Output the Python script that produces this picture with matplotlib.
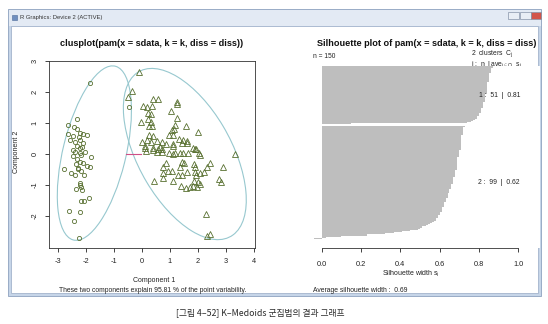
import numpy as np
import matplotlib
matplotlib.use("Agg")
import matplotlib.pyplot as plt
from matplotlib.patches import Ellipse, Rectangle

plt.rcParams['font.family'] = ['Liberation Sans', 'DejaVu Sans']
plt.rcParams['mathtext.fontset'] = 'custom'
plt.rcParams['mathtext.rm'] = 'Liberation Sans'
plt.rcParams['mathtext.it'] = 'Liberation Sans:italic'

# --- clusplot: component scores per cluster ---
c1_x = [-1.84, -0.45, -2.63, -2.32, -2.43, -2.31, -2.63, -2.45, -2.21, -2.10,
        -1.95, -2.57, -2.39, -2.21, -2.12, -2.33, -2.15, -2.48, -2.21, -2.20,
        -2.45, -2.19, -1.83, -2.31, -2.21, -2.12, -2.36, -1.98, -1.86, -2.77,
        -2.27, -2.19, -2.54, -2.38, -2.06, -2.21, -2.19, -2.36, -2.15, -2.19,
        -2.07, -1.88, -2.61, -2.21, -2.44, -2.25, -2.25, -2.05, -2.28, -2.23,
        -2.40]
c1_y = [2.28, 1.52, 0.94, 1.12, 0.88, 0.81, 0.63, 0.58, 0.67, 0.65,
        0.62, 0.45, 0.40, 0.45, 0.36, 0.27, 0.24, 0.13, 0.18, 0.02,
        -0.06, -0.03, -0.11, -0.17, -0.25, -0.30, -0.32, -0.39, -0.43, -0.49,
        -0.49, -0.54, -0.60, -0.66, -0.68, -0.95, -1.05, -1.14, -1.16, -1.50,
        -1.50, -1.43, -1.83, -1.88, -2.16, -2.71, 0.55, 0.08, -0.45, -1.00,
        0.05]

c2_x = [-0.11, -0.35, -0.49, 0.40, 0.56, 1.26, 1.26, 0.02, 0.17, 0.37,
        1.04, 0.21, 0.31, 0.23, 1.26, -0.05, 0.31, 0.25, 0.35, 1.18,
        1.57, 1.06, 1.14, 2.01, 0.26, 0.38, 0.98, 1.10, 0.17, 1.33,
        1.45, 1.60, 0.52, 0.70, -0.01, 0.31, 0.86, 1.10, 1.81, 1.89,
        0.11, 0.40, 0.58, 0.70, 3.31, 1.18, 1.36, 1.45, 0.11, 0.64,
        1.12, 1.42, 1.60, 1.93, 0.14, 0.38, 0.55, 0.70, 0.98, 1.10,
        1.63, 2.05, 2.07, 0.86, 1.42, 1.50, 1.86, 1.89, 2.43, 0.76,
        1.36, 2.31, 2.90, 0.74, 0.92, 1.06, 1.60, 1.89, 2.07, 2.21,
        1.30, 1.42, 1.93, 0.74, 1.12, 0.44, 1.86, 2.01, 2.07, 2.76,
        2.81, 1.38, 1.57, 1.71, 1.83, 1.95, 2.27, 2.31, 2.43]
c2_y = [2.66, 2.03, 1.85, 1.76, 1.76, 1.69, 1.60, 1.55, 1.53, 1.55,
        1.39, 1.31, 1.28, 1.13, 1.15, 1.04, 1.04, 0.90, 0.90, 0.94,
        0.90, 0.77, 0.81, 0.70, 0.61, 0.58, 0.61, 0.61, 0.45, 0.48,
        0.44, 0.42, 0.42, 0.38, 0.38, 0.38, 0.31, 0.27, 0.20, 0.16,
        0.20, 0.18, 0.16, 0.16, 0.01, 0.04, 0.04, 0.02, 0.26, 0.22,
        0.32, 0.36, 0.36, 0.15, 0.10, 0.12, 0.08, 0.07, 0.04, 0.00,
        0.04, 0.04, -0.03, -0.28, -0.25, -0.28, -0.32, -0.41, -0.28, -0.43,
        -0.43, -0.43, -0.43, -0.60, -0.54, -0.54, -0.57, -0.57, -0.60, -0.57,
        -0.66, -0.68, -0.68, -0.78, -0.87, -0.86, -0.86, -0.89, -0.97, -0.82,
        -0.89, -1.03, -1.08, -1.05, -1.03, -1.05, -1.94, -2.65, -2.58]

# spanning ellipses (centre, full axes, rotation in degrees)
ell_centre = [(-1.70, 0.03), (1.53, 0.00)]
ell_width = [5.80, 6.25]
ell_height = [2.24, 3.27]
ell_angle = [74.7, 123.35]

# segment joining the two clusters
seg_x = [-0.58, -0.05]
seg_y = [0.0, 0.0]

# --- silhouette widths, sorted within cluster ---
sil1 = [0.87, 0.87, 0.86, 0.86, 0.86, 0.86, 0.85, 0.85, 0.85, 0.85,
        0.85, 0.85, 0.85, 0.85, 0.84, 0.84, 0.84, 0.84, 0.84, 0.84,
        0.84, 0.84, 0.84, 0.84, 0.83, 0.83, 0.83, 0.83, 0.83, 0.83,
        0.83, 0.82, 0.82, 0.82, 0.82, 0.82, 0.82, 0.81, 0.81, 0.81,
        0.81, 0.80, 0.80, 0.80, 0.79, 0.79, 0.78, 0.77, 0.76, 0.74,
        0.15]
sil2 = [0.73, 0.72, 0.72, 0.72, 0.72, 0.72, 0.72, 0.72, 0.71, 0.71,
        0.71, 0.71, 0.71, 0.71, 0.71, 0.71, 0.71, 0.71, 0.71, 0.71,
        0.71, 0.70, 0.70, 0.70, 0.70, 0.70, 0.70, 0.69, 0.69, 0.69,
        0.69, 0.69, 0.69, 0.69, 0.69, 0.69, 0.69, 0.69, 0.69, 0.68,
        0.68, 0.68, 0.68, 0.68, 0.68, 0.67, 0.67, 0.67, 0.67, 0.67,
        0.67, 0.66, 0.66, 0.66, 0.66, 0.65, 0.65, 0.65, 0.65, 0.64,
        0.64, 0.64, 0.64, 0.63, 0.63, 0.63, 0.63, 0.62, 0.62, 0.62,
        0.62, 0.61, 0.61, 0.61, 0.61, 0.60, 0.60, 0.60, 0.59, 0.59,
        0.59, 0.58, 0.58, 0.57, 0.56, 0.55, 0.54, 0.53, 0.51, 0.50,
        0.49, 0.45, 0.41, 0.37, 0.32, 0.23, 0.10, 0.02, -0.04]

W, H = 548, 324
fig = plt.figure(figsize=(W / 100, H / 100), dpi=100)


def box(l, t, r, b):
    return [l / W, 1 - b / H, (r - l) / W, (b - t) / H]


# window frame drawn in pixel units
bg = fig.add_axes([0, 0, 1, 1], zorder=0)
bg.set_xlim(0, W)
bg.set_ylim(H, 0)
bg.axis('off')
bg.add_patch(Rectangle((8, 9), 533, 287, fc='#c6d5e8', ec='#8ea2bf', lw=0.6))
bg.add_patch(Rectangle((8.5, 9.5), 532, 16, fc='#e3eaf4', ec='none'))
bg.add_patch(Rectangle((11, 26), 527, 267, fc='white', ec='#a3b4cc', lw=0.6))
bg.add_patch(Rectangle((12, 14.5), 5, 5, fc='#6f8fbf', ec='#4d6a99', lw=0.4))
bg.text(20, 17.5, 'R Graphics: Device 2 (ACTIVE)', fontsize=4.2, color='#333333',
        va='center', ha='left')
for bx, bw, fc in [(508, 11, '#e9eef5'), (519.5, 11, '#e9eef5'), (531, 10, '#d2544a')]:
    bg.add_patch(Rectangle((bx, 11.5), bw, 7, fc=fc, ec='#8693a8', lw=0.5))

# clusplot panel
ax1 = fig.add_axes(box(49, 61, 255, 248), zorder=1)
ax1.set_xlim(-3.32, 4.036)
ax1.set_ylim(-3.03, 3.0)
for (cx, cy), w, h, a in zip(ell_centre, ell_width, ell_height, ell_angle):
    ax1.add_patch(Ellipse((cx, cy), w, h, angle=a, fill=False,
                          ec='#97c8cf', lw=0.8))
ax1.plot(seg_x, seg_y, color='#cf4f86', lw=0.8)
ax1.plot(c1_x, c1_y, 'o', mfc='none', mec='#587030', ms=3.0, mew=0.6)
ax1.plot(c2_x, c2_y, '^', mfc='none', mec='#587030', ms=4.1, mew=0.6)
xt = list(range(-3, 5))
yt = list(range(-2, 4))
ax1.set_xticks(xt)
ax1.set_xticklabels([str(v) for v in xt])
ax1.set_yticks(yt)
ax1.set_yticklabels([str(v) for v in yt], rotation=90, va='center')
ax1.tick_params(direction='out', length=3, width=0.6, labelsize=5.3,
                colors='#222222')
ax1.tick_params(axis='x', pad=4)
ax1.tick_params(axis='y', pad=4.5)
for s in ax1.spines.values():
    s.set_linewidth(0.6)
    s.set_color('#333333')

bg.text(152, 43, 'clusplot(pam(x = sdata, k = k, diss = diss))', fontsize=6.6,
        fontweight='bold', ha='center', va='center', color='#111111')
bg.text(154, 281, 'Component 1', fontsize=5.0, ha='center', va='center', color='#222222')
bg.text(153, 290, 'These two components explain 95.81 % of the point variability.',
        fontsize=4.9, ha='center', va='center', color='#222222')
bg.text(17, 152, 'Component 2', fontsize=5.0, rotation=90, ha='center', va='center',
        color='#222222')

# silhouette panel
ax2 = fig.add_axes(box(300, 66, 540, 248), zorder=1)
ax2.set_xlim(-0.1104, 1.1104)
ax2.set_ylim(158.8, 0)
pos1 = np.arange(len(sil1))
pos2 = np.arange(len(sil2)) + len(sil1) + 1
ax2.barh(pos1, sil1, height=1, align='edge', color='#bebebe', lw=0, antialiased=False)
ax2.barh(pos2, sil2, height=1, align='edge', color='#bebebe', lw=0, antialiased=False)
for name in ['top', 'left', 'right']:
    ax2.spines[name].set_visible(False)
ax2.spines['bottom'].set_bounds(0, 1)
ax2.spines['bottom'].set_linewidth(0.6)
ax2.spines['bottom'].set_color('#333333')
st = [0.0, 0.2, 0.4, 0.6, 0.8, 1.0]
ax2.set_xticks(st)
ax2.set_xticklabels([f'{v:.1f}' for v in st])
ax2.set_yticks([])
ax2.tick_params(direction='out', length=3, width=0.6, labelsize=5.3, pad=6,
                colors='#222222')

avg1, avg2 = np.mean(sil1), np.mean(sil2)
avg_all = np.mean(sil1 + sil2)
ax2.text(0.80, pos1.mean() + 0.5, f'1 :  {len(sil1)}  |  {avg1:.2f}', fontsize=4.9,
         va='center', ha='left', color='#222222')
ax2.text(0.795, pos2.mean() + 0.5, f'2 :  {len(sil2)}  |  {avg2:.2f}', fontsize=4.9,
         va='center', ha='left', color='#222222')

bg.text(427, 43, 'Silhouette plot of pam(x = sdata, k = k, diss = diss)', fontsize=6.6,
        fontweight='bold', ha='center', va='center', color='#111111')
bg.text(313, 57, f'n = {len(sil1) + len(sil2)}', fontsize=4.8, ha='left', va='center',
        color='#222222')
bg.text(471, 54, r'2  clusters  C$_\mathregular{j}$', fontsize=4.9, ha='left',
        va='center', color='#222222')
bg.text(471, 65, r'j :  n$_\mathregular{j}$ | ave$_{\mathregular{i}\in \mathregular{Cj}}$  s$_\mathregular{i}$',
        fontsize=4.9, ha='left', va='center', color='#222222')
bg.text(411, 274, r'Silhouette width s$_\mathregular{i}$', fontsize=5.0, ha='center',
        va='center', color='#222222')
bg.text(313, 290, f'Average silhouette width :  {avg_all:.2f}', fontsize=4.9,
        ha='left', va='center', color='#222222')

# figure caption under the window
bg.text(260, 313, '[그림 4–52] K–Medoids 군집법의 결과 그래프', fontsize=6.3,
        ha='center', va='center', color='#2a2a2a',
        family=['Noto Sans CJK KR', 'DejaVu Sans'])

fig.savefig('out.png', dpi=100)
